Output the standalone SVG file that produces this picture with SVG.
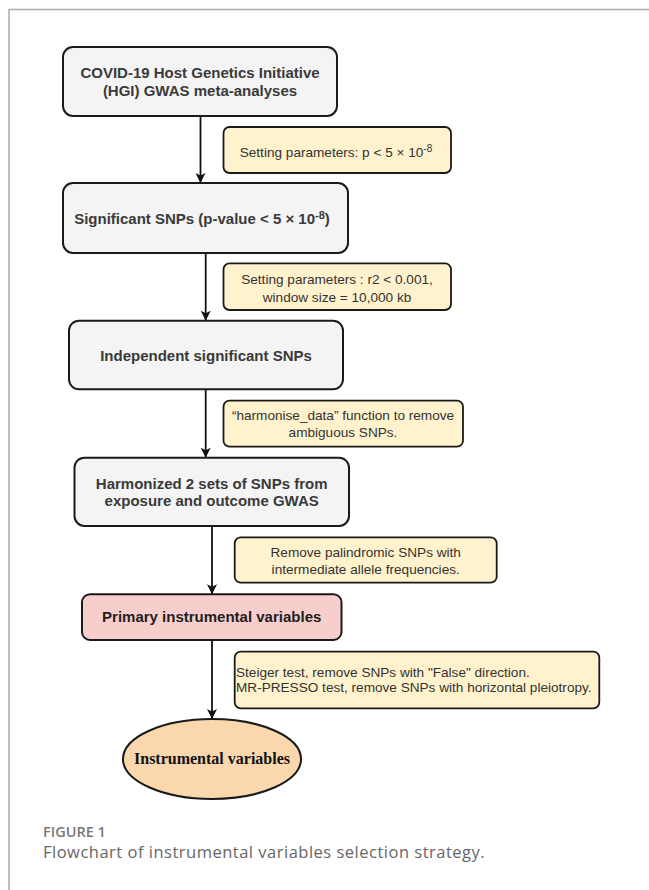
<svg xmlns="http://www.w3.org/2000/svg" width="649" height="890" viewBox="0 0 649 890">
  <defs>
    <marker id="arr" viewBox="0 0 10 10" refX="10" refY="5" markerWidth="10" markerHeight="10" markerUnits="userSpaceOnUse" orient="auto">
      <path d="M0,0 L10,5 L0,10 L2.5,5 Z" fill="#111"/>
    </marker>
    <style>
      .box { fill: #f4f4f4; stroke: #1a1a1a; stroke-width: 2; }
      .lbl { fill: #fff2cc; stroke: #1a1a1a; stroke-width: 1.8; }
      .bt { font-family: "Liberation Sans", Arial, sans-serif; font-size: 15px; font-weight: bold; fill: #3a3a3a; text-anchor: middle; }
      .lt { font-family: "Liberation Sans", Arial, sans-serif; font-size: 13.6px; fill: #333; text-anchor: middle; }
      .conn { stroke: #111; stroke-width: 1.8; fill: none; marker-end: url(#arr); }
      .frame { stroke: #aaa; stroke-width: 1.5; fill: none; }
    </style>
  </defs>
  <rect width="649" height="890" fill="#fff"/>
  <path class="frame" d="M9,890 L9,9.5 L649,9.5"/>

  <g id="connectors">
    <line class="conn" x1="200.5" y1="116" x2="200.5" y2="183"/>
    <line class="conn" x1="205.7" y1="253" x2="205.7" y2="320.7"/>
    <line class="conn" x1="205.7" y1="389.3" x2="205.7" y2="457.7"/>
    <line class="conn" x1="212" y1="526" x2="212" y2="594.3"/>
    <line class="conn" x1="212" y1="640" x2="212" y2="719"/>
  </g>

  <g id="node-hgi">
    <rect class="box" x="63" y="47" width="274" height="69" rx="10"/>
    <text class="bt" x="200" y="78">COVID-19 Host Genetics Initiative</text>
    <text class="bt" x="200" y="96">(HGI) GWAS meta-analyses</text>
  </g>

  <g id="label-p">
    <rect class="lbl" x="223.5" y="127" width="227.5" height="46" rx="6"/>
    <text class="lt" x="336" y="157">Setting parameters: p &lt; 5 × 10<tspan font-size="10" dy="-5">-8</tspan></text>
  </g>

  <g id="node-sig">
    <rect class="box" x="63" y="183" width="285" height="70" rx="10"/>
    <text class="bt" x="202" y="224">Significant SNPs (p-value &lt; 5 × 10<tspan font-size="11" dy="-5">-8</tspan><tspan dy="5">)</tspan></text>
  </g>

  <g id="label-r2">
    <rect class="lbl" x="223.5" y="263.3" width="227.5" height="46.7" rx="6"/>
    <text class="lt" x="337" y="284">Setting parameters : r2 &lt; 0.001,</text>
    <text class="lt" x="337" y="301.5">window size = 10,000 kb</text>
  </g>

  <g id="node-indep">
    <rect class="box" x="69" y="320.7" width="274" height="68.6" rx="10"/>
    <text class="bt" x="206" y="361">Independent significant SNPs</text>
  </g>

  <g id="label-harm">
    <rect class="lbl" x="223.5" y="400.7" width="239.5" height="46" rx="6"/>
    <text class="lt" x="343" y="419.5">“harmonise_data” function to remove</text>
    <text class="lt" x="343" y="436.5">ambiguous SNPs.</text>
  </g>

  <g id="node-harmonized">
    <rect class="box" x="74.5" y="457.7" width="274.5" height="68.3" rx="10"/>
    <text class="bt" x="211.7" y="488.5">Harmonized 2 sets of SNPs from</text>
    <text class="bt" x="211.7" y="506">exposure and outcome GWAS</text>
  </g>

  <g id="label-palin">
    <rect class="lbl" x="234.7" y="537.3" width="262" height="45.4" rx="6"/>
    <text class="lt" x="365.7" y="556.5">Remove palindromic SNPs with</text>
    <text class="lt" x="365.7" y="574">intermediate allele frequencies.</text>
  </g>

  <g id="node-primary">
    <rect x="82" y="594.3" width="259.5" height="45.7" rx="8" fill="#f8cecc" stroke="#1a1a1a" stroke-width="2"/>
    <text class="bt" x="211.7" y="622" style="fill:#1e1e1e">Primary instrumental variables</text>
  </g>

  <g id="label-steiger">
    <rect class="lbl" x="234.7" y="651.7" width="364.6" height="56.6" rx="6"/>
    <text class="lt" x="236" y="677" style="text-anchor:start">Steiger test, remove SNPs with "False" direction.</text>
    <text class="lt" x="236" y="692" style="text-anchor:start">MR-PRESSO test, remove SNPs with horizontal pleiotropy.</text>
  </g>

  <g id="node-iv">
    <ellipse cx="212" cy="759" rx="89" ry="40" fill="#fad7ac" stroke="#1a1a1a" stroke-width="2"/>
    <text x="212" y="764" text-anchor="middle" font-family="Liberation Serif, 'Times New Roman', serif" font-size="16" font-weight="bold" fill="#111">Instrumental variables</text>
  </g>

  <g id="caption">
    <text x="43" y="837" font-family="'Open Sans', sans-serif" font-size="14.5" font-weight="600" fill="#777">FIGURE 1</text>
    <text x="43" y="858" font-family="'Open Sans', sans-serif" font-size="16.5" letter-spacing="0.5" fill="#666">Flowchart of instrumental variables selection strategy.</text>
  </g>
</svg>
